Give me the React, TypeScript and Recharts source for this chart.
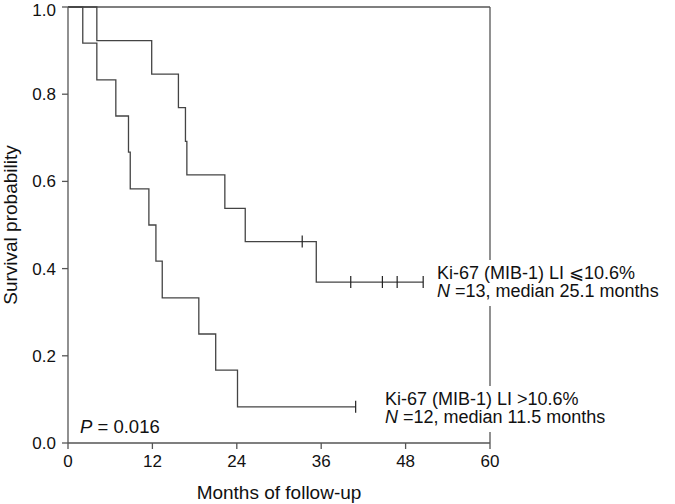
import React from 'react';
import {
  ComposedChart,
  Line,
  Scatter,
  XAxis,
  YAxis,
  ReferenceLine,
} from 'recharts';

// Kaplan-Meier steps: months -> survival probability
const lowKi67Steps = [
  { x: 0, y: 1.0 },
  { x: 4.1, y: 0.923 },
  { x: 11.9, y: 0.846 },
  { x: 15.7, y: 0.769 },
  { x: 16.7, y: 0.692 },
  { x: 16.9, y: 0.615 },
  { x: 22.3, y: 0.538 },
  { x: 25.2, y: 0.462 },
  { x: 35.3, y: 0.369 },
  { x: 50.5, y: 0.369 },
];

const lowKi67Censored = [
  { x: 33.3, y: 0.462 },
  { x: 40.2, y: 0.369 },
  { x: 44.7, y: 0.369 },
  { x: 46.8, y: 0.369 },
  { x: 50.5, y: 0.369 },
];

const highKi67Steps = [
  { x: 0, y: 1.0 },
  { x: 2.1, y: 0.917 },
  { x: 4.1, y: 0.833 },
  { x: 6.8, y: 0.75 },
  { x: 8.6, y: 0.667 },
  { x: 8.85, y: 0.583 },
  { x: 11.5, y: 0.5 },
  { x: 12.5, y: 0.417 },
  { x: 13.4, y: 0.333 },
  { x: 18.6, y: 0.25 },
  { x: 21.0, y: 0.167 },
  { x: 24.1, y: 0.083 },
  { x: 40.9, y: 0.083 },
];

const highKi67Censored = [{ x: 40.9, y: 0.083 }];

const xTicks = [0, 12, 24, 36, 48, 60];
const yTicks = [0, 0.2, 0.4, 0.6, 0.8, 1.0];

const FONT = '"Liberation Sans", Arial, Helvetica, sans-serif';
const AXIS = '#555';
const CURVE = '#444';

const CensorMark = (props: any) => {
  const { cx, cy } = props;
  if (cx == null || cy == null) return null;
  return <line x1={cx} x2={cx} y1={cy - 6} y2={cy + 6} stroke="#222" strokeWidth={1.2} />;
};

const labelBox: React.CSSProperties = {
  position: 'absolute',
  background: '#fff',
  fontFamily: FONT,
  fontSize: 18,
  lineHeight: '18px',
  color: '#111',
  whiteSpace: 'nowrap',
  padding: '4px 4px 6px 4px',
};

export default function App() {
  return (
    <div style={{ position: 'absolute', left: 0, top: 0, width: 675, height: 504, background: '#fff' }}>
      <ComposedChart
        width={675}
        height={504}
        margin={{ top: 7, right: 185, bottom: 0, left: 8 }}
        style={{ fontFamily: FONT }}
      >
        <XAxis
          type="number"
          dataKey="x"
          domain={[0, 60]}
          ticks={xTicks}
          height={61}
          tickSize={6}
          tickMargin={6}
          stroke={AXIS}
          strokeWidth={1.3}
          tick={{ fill: '#111', fontSize: 17 }}
          label={{ value: 'Months of follow-up', position: 'insideBottom', offset: 5, fill: '#111', fontSize: 19 }}
        />
        <YAxis
          type="number"
          dataKey="y"
          domain={[0, 1]}
          ticks={yTicks}
          width={60}
          tickSize={6}
          tickMargin={6}
          stroke={AXIS}
          strokeWidth={1.3}
          tickFormatter={(v: number) => v.toFixed(1)}
          tick={{ fill: '#111', fontSize: 17 }}
          label={{
            value: 'Survival probability',
            angle: -90,
            position: 'insideLeft',
            dx: -3,
            fill: '#111',
            fontSize: 19,
            style: { textAnchor: 'middle' },
          }}
        />
        <ReferenceLine y={1} stroke={AXIS} strokeWidth={1.3} ifOverflow="visible" />
        <ReferenceLine x={60} stroke={AXIS} strokeWidth={1.3} ifOverflow="visible" />
        <Line
          data={lowKi67Steps}
          dataKey="y"
          type="stepAfter"
          stroke={CURVE}
          strokeWidth={1.3}
          dot={false}
          isAnimationActive={false}
        />
        <Line
          data={highKi67Steps}
          dataKey="y"
          type="stepAfter"
          stroke={CURVE}
          strokeWidth={1.3}
          dot={false}
          isAnimationActive={false}
        />
        <Scatter data={lowKi67Censored} shape={CensorMark} isAnimationActive={false} />
        <Scatter data={highKi67Censored} shape={CensorMark} isAnimationActive={false} />
      </ComposedChart>

      <div style={{ ...labelBox, left: 433, top: 260 }}>
        Ki-67 (MIB-1) LI {'\u2A7D'}10.6%
        <br />
        <i>N</i> =13, median 25.1 months
      </div>
      <div style={{ ...labelBox, left: 381, top: 386 }}>
        Ki-67 (MIB-1) LI &gt;10.6%
        <br />
        <i>N</i> =12, median 11.5 months
      </div>
      <div
        style={{
          position: 'absolute',
          left: 80,
          top: 417,
          fontFamily: FONT,
          fontSize: 18.5,
          lineHeight: '20px',
          color: '#111',
        }}
      >
        <i>P</i> = 0.016
      </div>
    </div>
  );
}
